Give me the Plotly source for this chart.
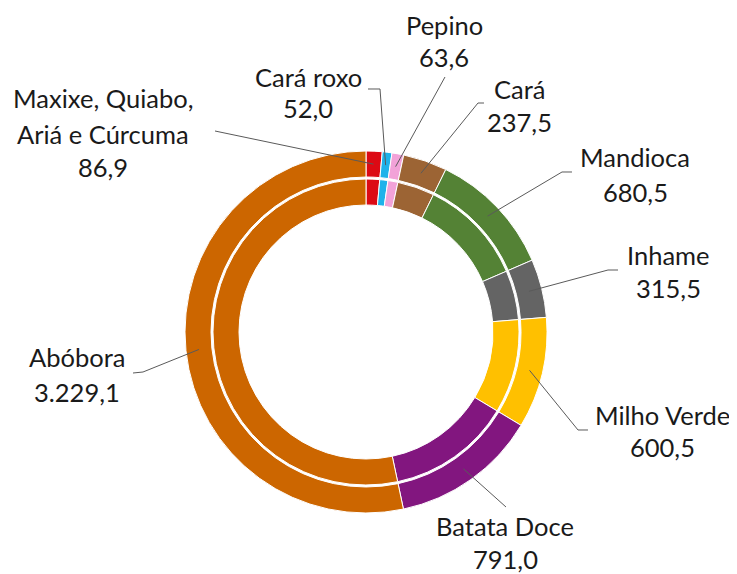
import math
import plotly.graph_objects as go

W, H = 737, 574
OFF = 8  # page body margin offset in the screenshot

categories = ["Maxixe, Quiabo,<br>Ariá e Cúrcuma", "Cará roxo", "Pepino", "Cará", "Mandioca",
              "Inhame", "Milho Verde", "Batata Doce", "Abóbora"]
values = [86.9, 52.0, 63.6, 237.5, 680.5, 315.5, 600.5, 791.0, 3229.1]
value_labels = ["86,9", "52,0", "63,6", "237,5", "680,5", "315,5", "600,5", "791,0", "3.229,1"]
colors = ["#DC0A14", "#1EB2EA", "#F2A2D8", "#9C6434", "#548235",
          "#646464", "#FFC000", "#82167F", "#CC6600"]

# geometry (screenshot pixels)
CX, CY = 366, 332
R_OUT, R_OUT_HOLE = 181, 155
R_IN, R_IN_HOLE = 153, 127
R_LEADER = 168

def P(x, y):
    return (x - OFF) / W, 1 - (y - OFF) / H

def dom(r):
    x0, y1 = P(CX - r, CY - r)
    x1, y0 = P(CX + r, CY + r)
    return dict(x=[x0, x1], y=[y0, y1])

fig = go.Figure()
for r, hole in [(R_OUT, R_OUT_HOLE), (R_IN, R_IN_HOLE)]:
    fig.add_trace(go.Pie(
        labels=categories, values=values, sort=False, direction="clockwise", rotation=0,
        hole=hole / r, domain=dom(r), textinfo="none", hoverinfo="label+value",
        marker=dict(colors=colors, line=dict(color="white", width=1)),
        showlegend=False,
    ))

# label text positions: (center x, name line ys, value y) and leader elbow points
label_pos = [
    (103, [98, 134], 167),
    (308, [77], 108),
    (444, [25], 57),
    (520, [89], 122),
    (635, [157], 192),
    (668, [255], 288),
    (662, [415], 447),
    (505, [526], 559),
    (77, [357], 392),
]
elbows = [
    [(215, 131)],
    [(368, 89), (380, 89)],
    [(445, 77)],
    [(484, 103), (478, 103)],
    [(572, 172), (562, 172)],
    [(618, 270), (608, 270)],
    [(588, 430), (578, 430)],
    [(506, 507)],
    [(133, 373), (143, 372)],
]

font = dict(family="Lato, Open Sans, sans-serif", size=25.5, color="#1a1a1a")
annotations = []
shapes = []
total = sum(values)
cum = 0.0
for i, v in enumerate(values):
    mid = (cum + v / 2) / total * 2 * math.pi
    cum += v
    ex = CX + R_LEADER * math.sin(mid)
    ey = CY - R_LEADER * math.cos(mid)
    cx, ys, vy = label_pos[i]
    lines = categories[i].split("<br>")
    for line, yy in zip(lines, ys):
        x0, y0 = P(cx, yy)
        annotations.append(dict(x=x0, y=y0, xref="paper", yref="paper", text=line,
                                showarrow=False, font=font, xanchor="center", yanchor="middle"))
    x0, y0 = P(cx, vy)
    annotations.append(dict(x=x0, y=y0, xref="paper", yref="paper", text=value_labels[i],
                            showarrow=False, font=font, xanchor="center", yanchor="middle"))
    pts = elbows[i] + [(ex, ey)]
    path = "M " + " L ".join(f"{P(px, py)[0]:.5f},{P(px, py)[1]:.5f}" for px, py in pts)
    shapes.append(dict(type="path", path=path, xref="paper", yref="paper",
                       line=dict(color="#5a5a5a", width=1)))

fig.update_layout(
    width=W, height=H, margin=dict(l=0, r=0, t=0, b=0),
    paper_bgcolor="white", plot_bgcolor="white",
    annotations=annotations, shapes=shapes,
)
fig.write_html("out.html")
